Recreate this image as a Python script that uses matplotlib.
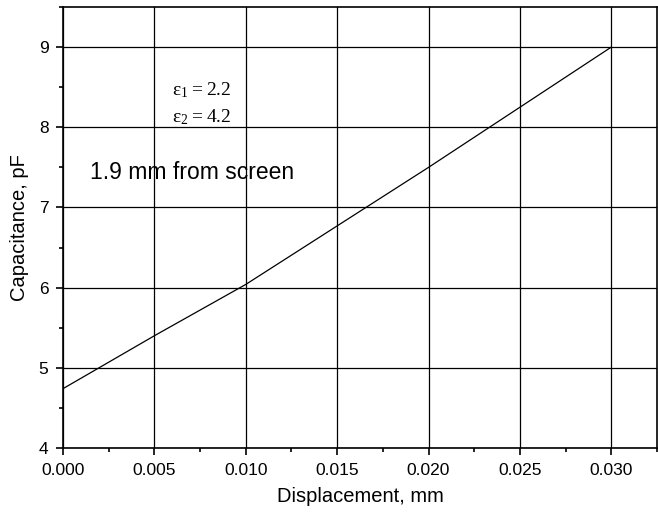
import matplotlib
matplotlib.use("Agg")
import matplotlib.pyplot as plt
from matplotlib.ticker import MultipleLocator, FormatStrFormatter

displacement = [0.000, 0.005, 0.010, 0.015, 0.020, 0.025, 0.030]
capacitance = [4.74, 5.40, 6.04, 6.77, 7.50, 8.25, 9.00]

plt.rcParams['font.family'] = ['Liberation Sans', 'DejaVu Sans']

fig = plt.figure(figsize=(6.58, 5.19), dpi=100)
ax = fig.add_axes([63/658, 71/519, 594/658, 441/519])

ax.plot(displacement, capacitance, color='black', linewidth=0.9)

ax.set_xlim(0.0, 0.0325)
ax.set_ylim(4.0, 9.5)
ax.xaxis.set_major_locator(MultipleLocator(0.005))
ax.xaxis.set_minor_locator(MultipleLocator(0.0025))
ax.yaxis.set_major_locator(MultipleLocator(1))
ax.yaxis.set_minor_locator(MultipleLocator(0.5))
ax.xaxis.set_major_formatter(FormatStrFormatter('%.3f'))
ax.yaxis.set_major_formatter(FormatStrFormatter('%d'))
ax.grid(True, which='major', color='black', linewidth=0.9)
ax.tick_params(which='major', direction='out', length=5, width=1.2, labelsize=12.5,
               pad=5.5, top=False, right=False)
ax.tick_params(which='minor', direction='out', length=3, width=1.2, top=False, right=False)
for s in ax.spines.values():
    s.set_linewidth(1.2)

ax.set_xlabel('Displacement, mm', fontsize=14.5, labelpad=7)
ax.set_ylabel('Capacitance, pF', fontsize=14.5, labelpad=7)

ax.text(0.0076, 8.46, r'$\mathregular{\epsilon_1 = 2.2}$', ha='center', va='center',
        fontsize=14, family=['Liberation Serif'])
ax.text(0.0076, 8.13, r'$\mathregular{\epsilon_2 = 4.2}$', ha='center', va='center',
        fontsize=14, family=['Liberation Serif'])
ax.text(0.0015, 7.43, '1.9 mm from screen', ha='left', va='center', fontsize=16.5)

fig.savefig('out.png', dpi=100)
